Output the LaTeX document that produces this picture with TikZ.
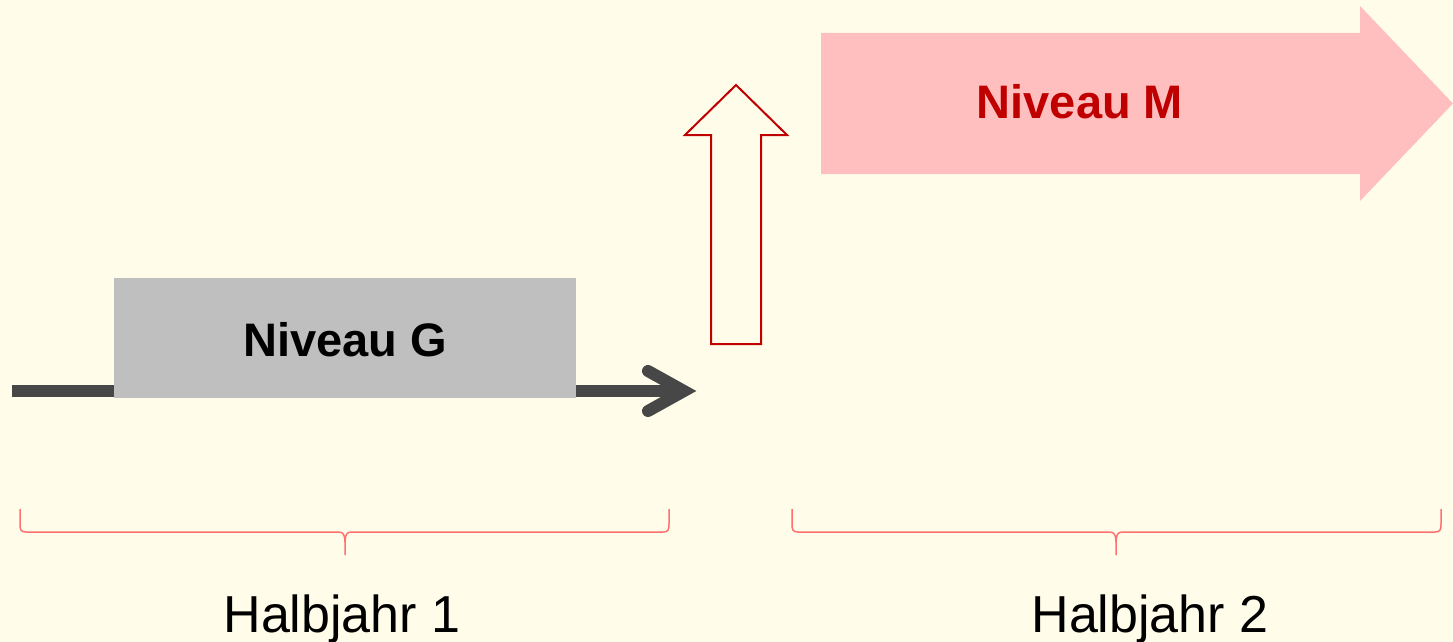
\documentclass[tikz,border=0pt]{standalone}
\usepackage{fontspec}
\setmainfont{Liberation Sans}
\definecolor{bgcream}{HTML}{FFFDE9}
\definecolor{pinkfill}{HTML}{FFBFBF}
\definecolor{darkred}{HTML}{C00000}
\definecolor{boxgray}{HTML}{BFBFBF}
\definecolor{linegray}{HTML}{474747}
\definecolor{bracered}{HTML}{FF7070}
\tikzset{
  bracestyle/.style={draw=bracered, line width=1.5pt},
  levellabel/.style={font=\fontsize{47}{56}\selectfont\bfseries, inner sep=0pt},
  termlabel/.style={font=\fontsize{52}{60}\selectfont, inner sep=0pt, anchor=base},
  timeline/.style={draw=linegray, line width=12pt},
}
\begin{document}
\begin{tikzpicture}[x=1pt,y=-1pt]
\path[fill=bgcream] (0,0) rectangle (1453,642);
\useasboundingbox (0,0) rectangle (1453,642);
% timeline arrow
\coordinate (tstart) at (12,391);
\coordinate (ttip) at (684,391);
\coordinate (tb1) at (648,371);
\coordinate (tb2) at (648,411);
\draw[timeline, line cap=butt] (tstart) -- (ttip);
\draw[timeline, line cap=round, line join=miter] (tb1) -- (ttip) -- (tb2);
% Niveau G box
\node[fill=boxgray, minimum width=462pt, minimum height=120pt, inner sep=0pt] (gbox) at (345,338) {};
\node[levellabel, text=black] (glabel) at (345,340) {Niveau G};
% hollow up arrow
\draw[draw=darkred, line width=2pt, line join=miter]
  (736,85) -- (787,135) -- (761,135) -- (761,344) -- (711,344) -- (711,135) -- (685,135) -- cycle;
% pink arrow
\fill[pinkfill] (821,33) -- (1360,33) -- (1360,6) -- (1453,103.5) -- (1360,201) -- (1360,174) -- (821,174) -- cycle;
\node[levellabel, text=darkred] (mlabel) at (1080,102) {Niveau M};
% braces
\draw[bracestyle] (20,509) -- (20,524) .. controls (20,530) and (21,532) .. (26,532) -- (339,532)
  .. controls (343,532) and (345,535) .. (345,542) -- (345,555) -- (345,542)
  .. controls (345,535) and (347,532) .. (351,532) -- (663,532)
  .. controls (668,532) and (669,530) .. (669,524) -- (669,509);
\draw[bracestyle] (792,509) -- (792,524) .. controls (792,530) and (793,532) .. (798,532) -- (1110,532)
  .. controls (1114,532) and (1116,535) .. (1116,542) -- (1116,555) -- (1116,542)
  .. controls (1116,535) and (1118,532) .. (1122,532) -- (1435,532)
  .. controls (1440,532) and (1441,530) .. (1441,524) -- (1441,509);
\node[termlabel] (h1) at (342,632) {Halbjahr 1};
\node[termlabel] (h2) at (1150,632) {Halbjahr 2};
\end{tikzpicture}
\end{document}
